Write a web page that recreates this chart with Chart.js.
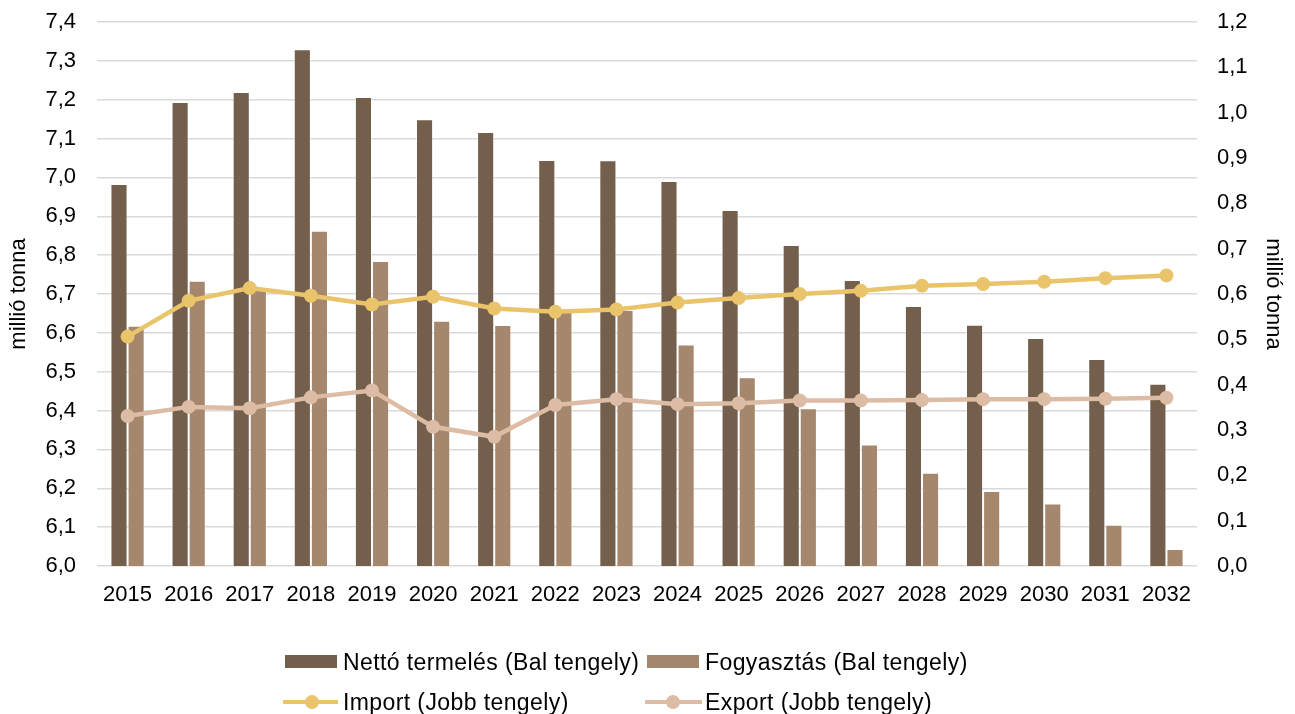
<!DOCTYPE html>
<html>
<head>
<meta charset="utf-8">
<script src="https://cdn.jsdelivr.net/npm/chart.js@4.4.0/dist/chart.umd.min.js"></script>
<style>
  html, body { margin: 0; padding: 0; background: #fff; }
  #wrap { position: relative; width: 1295px; height: 714px; overflow: hidden; }
  #chart { position: absolute; left: 0; top: 0; }
  .lg { position: absolute; font-family: "Liberation Sans", Arial, sans-serif; font-size: 23px;
        letter-spacing: 0.4px; color: #000; white-space: nowrap; line-height: 26px; }
  .sw { position: absolute; }
</style>
</head>
<body>
<div id="wrap">
  <canvas id="chart" width="1295" height="714"></canvas>
  <!-- jelmagyarázat, két sor, rácsba igazítva -->
  <div class="sw" style="left:285px;top:655px;width:52px;height:13px;background:#735F4C"></div>
  <div class="lg" style="left:343px;top:649px">Nettó termelés (Bal tengely)</div>
  <div class="sw" style="left:647px;top:655px;width:52px;height:13px;background:#A4876C"></div>
  <div class="lg" style="left:705px;top:649px">Fogyasztás (Bal tengely)</div>
  <div class="sw" style="left:283px;top:700px;width:55px;height:4px;background:#E9C46A"></div>
  <div class="sw" style="left:305px;top:695px;width:14px;height:14px;border-radius:50%;background:#E9C46A"></div>
  <div class="lg" style="left:343px;top:689px">Import (Jobb tengely)</div>
  <div class="sw" style="left:645px;top:700px;width:57px;height:4px;background:#DDBCA5"></div>
  <div class="sw" style="left:666px;top:695px;width:14px;height:14px;border-radius:50%;background:#DDBCA5"></div>
  <div class="lg" style="left:705px;top:689px">Export (Jobb tengely)</div>
</div>
<script>
// Évek
const years = ['2015', '2016', '2017', '2018', '2019', '2020', '2021', '2022', '2023',
  '2024', '2025', '2026', '2027', '2028', '2029', '2030', '2031', '2032'];
// Bal tengely (millió tonna)
const nettoTermeles = [6.983, 7.194, 7.220, 7.330, 7.207, 7.150, 7.117, 7.045, 7.044,
  6.991, 6.916, 6.826, 6.736, 6.669, 6.621, 6.587, 6.533, 6.469];
const fogyasztas = [6.618, 6.734, 6.715, 6.863, 6.785, 6.631, 6.620, 6.654, 6.659,
  6.570, 6.486, 6.406, 6.313, 6.240, 6.193, 6.161, 6.106, 6.044];
// Jobb tengely (millió tonna)
const importVals = [0.506, 0.585, 0.613, 0.596, 0.577, 0.594, 0.568, 0.561, 0.566,
  0.581, 0.591, 0.600, 0.607, 0.618, 0.622, 0.627, 0.635, 0.641];
const exportVals = [0.331, 0.351, 0.348, 0.372, 0.387, 0.307, 0.285, 0.355, 0.368,
  0.357, 0.359, 0.365, 0.365, 0.366, 0.368, 0.368, 0.369, 0.371];

const FONT = '"Liberation Sans", Arial, sans-serif';
const fmt = v => Number(v).toFixed(1).replace('.', ',');

// függőleges tengelyek: fix szélesség, a felső/alsó túllógást nem számoljuk
function fixY(w) {
  return s => { s.width = w; s.paddingTop = 0; s.paddingBottom = 0; };
}

const ctx = document.getElementById('chart').getContext('2d');
new Chart(ctx, {
  data: {
    labels: years,
    datasets: [
      { type: 'bar', label: 'Nettó termelés (Bal tengely)', data: nettoTermeles, yAxisID: 'y',
        backgroundColor: '#735F4C', borderColor: 'rgba(255,255,255,0.45)', borderWidth: 1,
        categoryPercentage: 0.56, barPercentage: 1.0, order: 2 },
      { type: 'bar', label: 'Fogyasztás (Bal tengely)', data: fogyasztas, yAxisID: 'y',
        backgroundColor: '#A4876C', borderColor: 'rgba(255,255,255,0.45)', borderWidth: 1,
        categoryPercentage: 0.56, barPercentage: 1.0, order: 2 },
      { type: 'line', label: 'Import (Jobb tengely)', data: importVals, yAxisID: 'y1',
        borderColor: '#E9C46A', backgroundColor: '#E9C46A', borderWidth: 4.5,
        pointRadius: 7, pointBorderWidth: 0, tension: 0, order: 0 },
      { type: 'line', label: 'Export (Jobb tengely)', data: exportVals, yAxisID: 'y1',
        borderColor: '#DDBCA5', backgroundColor: '#DDBCA5', borderWidth: 4.5,
        pointRadius: 7, pointBorderWidth: 0, tension: 0, order: 1 }
    ]
  },
  options: {
    responsive: false,
    animation: false,
    layout: { padding: { top: 22, left: 0, right: 0, bottom: 0 } },
    plugins: { legend: { display: false }, tooltip: { enabled: false } },
    scales: {
      x: {
        offset: true,
        grid: { display: false, drawTicks: false },
        border: { display: false },
        ticks: { color: '#000', font: { family: FONT, size: 22 }, padding: 16, maxRotation: 0 },
        afterFit: s => { s.height = 148; }
      },
      y: {
        position: 'left', min: 6.0, max: 7.4,
        ticks: { stepSize: 0.1, color: '#000', font: { family: FONT, size: 22 }, padding: 21, callback: fmt },
        grid: { color: '#D9D9D9', lineWidth: 1.5, drawTicks: false },
        border: { display: false },
        title: { display: true, text: 'millió tonna', color: '#000', font: { family: FONT, size: 22 }, padding: 6 },
        afterFit: fixY(97)
      },
      y1: {
        position: 'right', min: 0, max: 1.2,
        ticks: { stepSize: 0.1, color: '#000', font: { family: FONT, size: 22 }, padding: 20, callback: fmt },
        grid: { display: false, drawTicks: false },
        border: { display: false },
        title: { display: true, text: 'millió tonna', color: '#000', font: { family: FONT, size: 22 }, padding: 9 },
        afterFit: fixY(98)
      }
    }
  }
});
</script>
</body>
</html>
